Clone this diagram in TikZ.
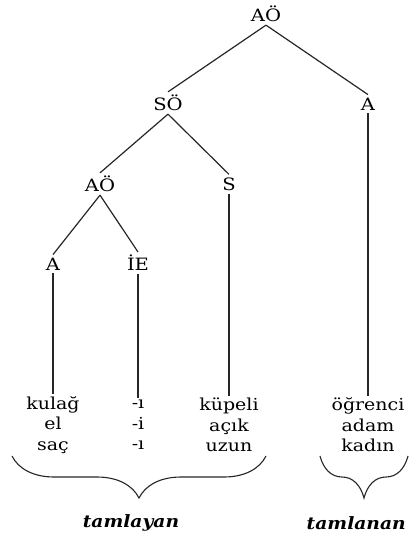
\documentclass[tikz,border=0pt]{standalone}
\usepackage{fontspec}
\setmainfont{DejaVu Serif}
\usetikzlibrary{decorations.pathreplacing}
\begin{document}
\begin{tikzpicture}[x=1pt,y=-1pt]
      \newcommand{\wordrow}[0]{425}
      \newcommand{\bracey}[0]{456}

      \tikzstyle{tag}=[
        inner sep=3pt,
        anchor=center,
        font=\fontsize{17}{19}\selectfont\addfontfeature{FakeStretch=1.15}
      ]
      \tikzstyle{word}=[
        inner sep=2pt,
        align=center,
        anchor=center,
        font=\fontsize{16.5}{20.5}\selectfont\addfontfeature{FakeStretch=1.15}
      ]
      \tikzstyle{line} = [line width=1.2pt, draw=black!85]
      \tikzstyle{curly} = [line width=1.1pt, draw=black!85,
        decorate, decoration={brace, mirror, amplitude=42pt}]
      \tikzstyle{role}=[
        font=\fontsize{17}{19}\selectfont\bfseries\itshape\addfontfeature{FakeStretch=1.1}
      ]

      \useasboundingbox (0,0) rectangle (408,549);

      \node[tag] (AOtop) at (266, 14) {AÖ};
      \node[tag] (SO)    at (168, 103) {SÖ};
      \node[tag] (Aright) at (368, 104) {A};
      \node[tag] (AOmid) at (100, 184) {AÖ};
      \node[tag] (S)     at (229, 184) {S};
      \node[tag] (Aleft) at (53, 264) {A};
      \node[tag] (IE)    at (138, 263) {İE};

      \node[word] (kulag)   at (53, \wordrow)  {kulağ\\el\\saç};
      \node[word] (suffix)  at (138, \wordrow) {-ı\\-i\\-ı};
      \node[word] (kupeli)  at (229, \wordrow) {küpeli\\açık\\uzun};
      \node[word] (ogrenci) at (368, \wordrow) {öğrenci\\adam\\kadın};

      \coordinate (bl1) at (12, \bracey);
      \coordinate (bl2) at (266, \bracey);
      \coordinate (br1) at (320, \bracey);
      \coordinate (br2) at (408, \bracey);

      \node[role] (tamlayan) at (131, 523) {tamlayan};
      \node[role, anchor=east, inner sep=1pt] (tamlanan) at (407, 523) {tamlanan};

      \draw[line] (AOtop.south) -- (SO.north);
      \draw[line] (AOtop.south) -- (Aright.north);
      \draw[line] (SO.south) -- (AOmid.north);
      \draw[line] (SO.south) -- (S.north);
      \draw[line] (AOmid.south) -- (Aleft.north);
      \draw[line] (AOmid.south) -- (IE.north);
      \draw[line] (Aleft.south) -- (kulag.north);
      \draw[line] (IE.south) -- (suffix.north);
      \draw[line] (S.south) -- (kupeli.north);
      \draw[line] (Aright.south) -- (ogrenci.north);

      \draw[curly] (bl1) -- (bl2);
      \draw[curly] (br1) -- (br2);
    \end{tikzpicture}
\end{document}
